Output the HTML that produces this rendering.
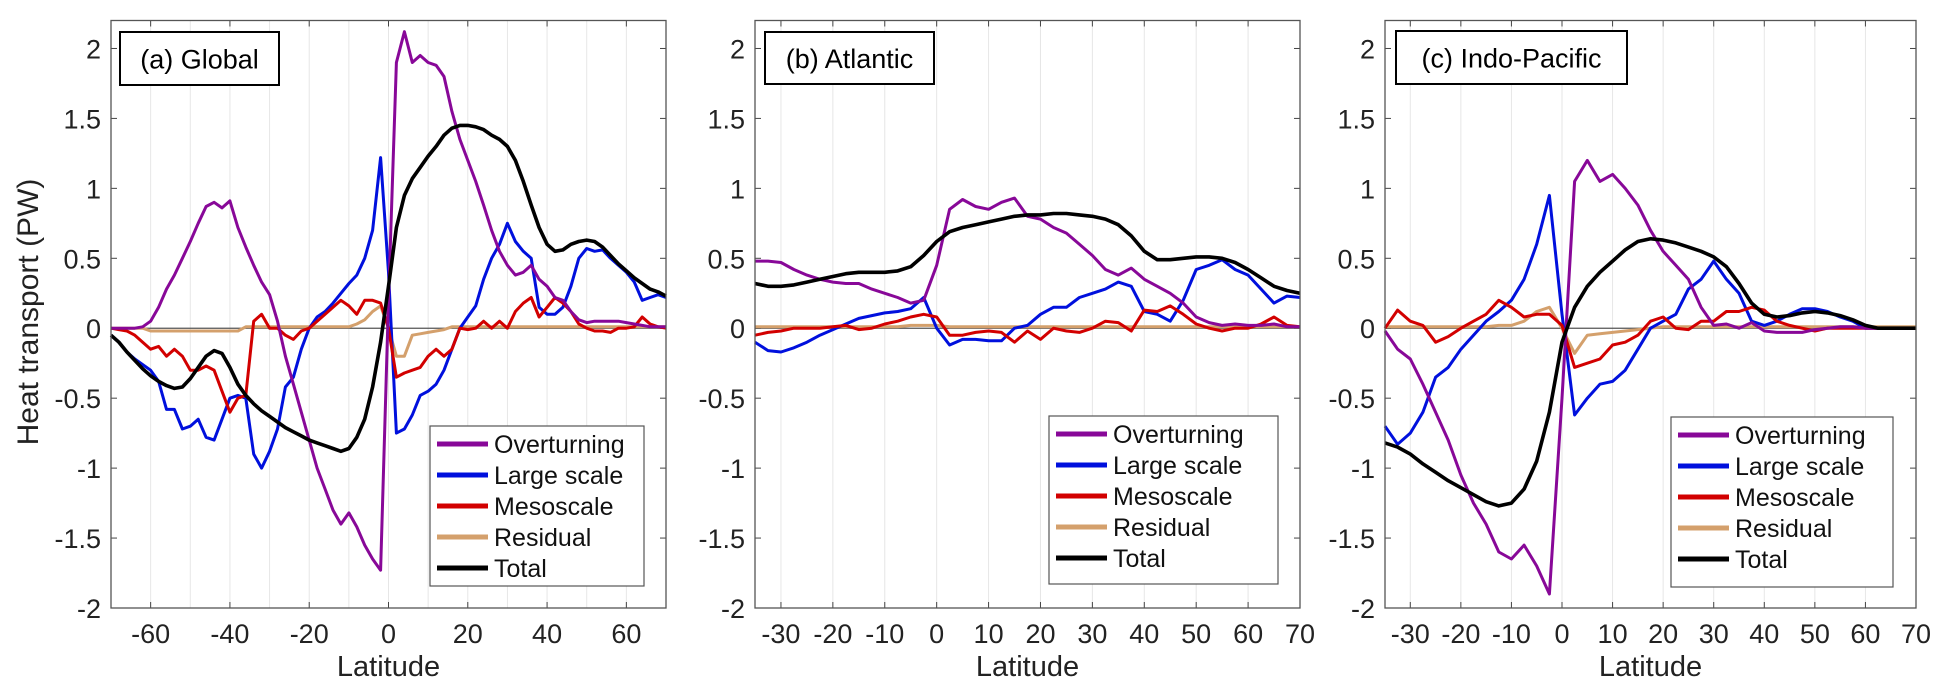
<!DOCTYPE html>
<html><head><meta charset="utf-8">
<style>
html,body{margin:0;padding:0;background:#fff;}
svg{display:block;font-family:"Liberation Sans",Arial,sans-serif;}
</style></head>
<body>
<svg id="fig" width="1948" height="682" viewBox="0 0 1948 682" xmlns="http://www.w3.org/2000/svg">
<text x="38" y="312" font-size="30" fill="#222" text-anchor="middle" transform="rotate(-90 38 312)">Heat transport (PW)</text>
</svg>
<script>
// ---- Data ----
const latA = [-70,-68,-66,-64,-62,-60,-58,-56,-54,-52,-50,-48,-46,-44,-42,-40,-38,-36,-34,-32,-30,-28,-26,-24,-22,-20,-18,-16,-14,-12,-10,-8,-6,-4,-2,0,2,4,6,8,10,12,14,16,18,20,22,24,26,28,30,32,34,36,38,40,42,44,46,48,50,52,54,56,58,60,62,64,66,68,70];
const overA = [0,0,0,0,0.01,0.05,0.15,0.28,0.38,0.5,0.62,0.75,0.87,0.9,0.86,0.91,0.72,0.58,0.45,0.33,0.24,0.05,-0.2,-0.4,-0.6,-0.8,-1.0,-1.15,-1.3,-1.4,-1.32,-1.42,-1.55,-1.65,-1.73,0.2,1.9,2.12,1.9,1.95,1.9,1.88,1.8,1.55,1.35,1.2,1.05,0.88,0.7,0.55,0.45,0.38,0.4,0.45,0.35,0.3,0.22,0.2,0.12,0.06,0.04,0.05,0.05,0.05,0.05,0.04,0.03,0.02,0.01,0.01,0.01];
const largeA = [-0.05,-0.1,-0.17,-0.22,-0.26,-0.3,-0.38,-0.58,-0.58,-0.72,-0.7,-0.65,-0.78,-0.8,-0.65,-0.5,-0.48,-0.5,-0.9,-1.0,-0.88,-0.72,-0.42,-0.35,-0.15,0.0,0.08,0.12,0.18,0.25,0.32,0.38,0.5,0.7,1.22,0.4,-0.75,-0.72,-0.62,-0.48,-0.45,-0.4,-0.3,-0.15,0.0,0.08,0.16,0.35,0.5,0.6,0.75,0.62,0.55,0.5,0.15,0.1,0.1,0.15,0.3,0.5,0.57,0.55,0.56,0.5,0.45,0.4,0.33,0.2,0.22,0.24,0.22];
const mesoA = [0,-0.01,-0.02,-0.05,-0.1,-0.15,-0.13,-0.2,-0.15,-0.2,-0.3,-0.3,-0.27,-0.3,-0.45,-0.6,-0.5,-0.48,0.05,0.1,0,0,-0.05,-0.08,-0.02,0,0.05,0.1,0.15,0.2,0.16,0.1,0.2,0.2,0.18,0,-0.35,-0.32,-0.3,-0.28,-0.2,-0.15,-0.2,-0.15,0,-0.01,0,0.05,0,0.05,0,0.12,0.18,0.22,0.08,0.15,0.22,0.18,0.12,0.03,0,-0.02,-0.02,-0.03,0,0,0.01,0.08,0.03,0.01,0];
const resA = [0,0,0,0,0,-0.02,-0.02,-0.02,-0.02,-0.02,-0.02,-0.02,-0.02,-0.02,-0.02,-0.02,-0.02,0.01,0.01,0.01,0.01,0.01,0.01,0.01,0.01,0.01,0.01,0.01,0.01,0.01,0.01,0.03,0.06,0.12,0.16,0,-0.2,-0.2,-0.05,-0.04,-0.03,-0.02,-0.01,0.01,0.01,0.01,0.01,0.01,0.01,0.01,0.01,0.01,0.01,0.01,0.01,0.01,0.01,0.01,0.01,0.01,0.01,0.01,0.01,0.01,0.01,0.01,0.01,0.01,0.01,0.01,0.01];
const totalA = [-0.05,-0.1,-0.17,-0.23,-0.29,-0.34,-0.38,-0.41,-0.43,-0.42,-0.36,-0.28,-0.2,-0.16,-0.18,-0.28,-0.4,-0.48,-0.54,-0.59,-0.63,-0.67,-0.71,-0.74,-0.77,-0.8,-0.82,-0.84,-0.86,-0.88,-0.86,-0.78,-0.65,-0.42,-0.1,0.3,0.72,0.95,1.07,1.15,1.23,1.3,1.38,1.43,1.45,1.45,1.44,1.42,1.38,1.35,1.3,1.2,1.05,0.88,0.72,0.6,0.55,0.56,0.6,0.62,0.63,0.62,0.58,0.52,0.46,0.41,0.36,0.32,0.28,0.26,0.23];

const latBC = [-35,-32.5,-30,-27.5,-25,-22.5,-20,-17.5,-15,-12.5,-10,-7.5,-5,-2.5,0,2.5,5,7.5,10,12.5,15,17.5,20,22.5,25,27.5,30,32.5,35,37.5,40,42.5,45,47.5,50,52.5,55,57.5,60,62.5,65,67.5,70];
const overB = [0.48,0.48,0.47,0.42,0.38,0.35,0.33,0.32,0.32,0.28,0.25,0.22,0.18,0.2,0.45,0.85,0.92,0.87,0.85,0.9,0.93,0.8,0.78,0.72,0.68,0.6,0.52,0.42,0.38,0.43,0.35,0.3,0.25,0.18,0.08,0.04,0.02,0.03,0.02,0.02,0.03,0.01,0.01];
const largeB = [-0.1,-0.16,-0.17,-0.14,-0.1,-0.05,-0.01,0.03,0.07,0.09,0.11,0.12,0.14,0.22,0.0,-0.12,-0.08,-0.08,-0.09,-0.09,0.0,0.02,0.1,0.15,0.15,0.22,0.25,0.28,0.33,0.3,0.12,0.1,0.05,0.2,0.42,0.45,0.49,0.42,0.38,0.28,0.18,0.23,0.22];
const mesoB = [-0.05,-0.03,-0.02,0,0,0,0.01,0.02,-0.01,0,0.03,0.05,0.08,0.1,0.08,-0.05,-0.05,-0.03,-0.02,-0.03,-0.1,-0.02,-0.08,0,-0.02,-0.03,0,0.05,0.04,-0.02,0.13,0.12,0.16,0.1,0.03,0,-0.02,0,0,0.03,0.08,0.02,0.01];
const resB = [0.01,0.01,0.01,0.01,0.01,0.01,0.01,0.01,0.01,0.01,0.01,0.01,0.02,0.02,0.02,0.01,0.01,0.01,0.01,0.01,0.01,0.01,0.01,0.01,0.01,0.01,0.01,0.01,0.01,0.01,0.01,0.01,0.01,0.01,0.01,0.01,0.01,0.01,0.01,0.01,0.01,0.01,0.01];
const totalB = [0.32,0.3,0.3,0.31,0.33,0.35,0.37,0.39,0.4,0.4,0.4,0.41,0.44,0.52,0.62,0.69,0.72,0.74,0.76,0.78,0.8,0.81,0.81,0.82,0.82,0.81,0.8,0.78,0.74,0.66,0.55,0.49,0.49,0.5,0.51,0.51,0.5,0.47,0.42,0.36,0.3,0.27,0.25];

const overC = [-0.02,-0.15,-0.22,-0.4,-0.6,-0.8,-1.05,-1.25,-1.4,-1.6,-1.65,-1.55,-1.7,-1.9,-0.5,1.05,1.2,1.05,1.1,1.0,0.88,0.7,0.55,0.45,0.35,0.15,0.02,0.03,0,0.04,-0.02,-0.03,-0.03,-0.03,-0.01,0,0.01,0.01,0,0,0,0,0];
const largeC = [-0.7,-0.83,-0.75,-0.6,-0.35,-0.28,-0.15,-0.05,0.05,0.12,0.2,0.35,0.6,0.95,0.1,-0.62,-0.5,-0.4,-0.38,-0.3,-0.15,0,0.05,0.1,0.28,0.35,0.48,0.35,0.25,0.05,0.02,0.05,0.1,0.14,0.14,0.12,0.08,0.05,0,0,0,0,0];
const mesoC = [0,0.13,0.05,0.02,-0.1,-0.06,0,0.05,0.1,0.2,0.15,0.08,0.1,0.1,0.02,-0.28,-0.25,-0.22,-0.12,-0.1,-0.05,0.05,0.08,0,-0.01,0.05,0.05,0.12,0.12,0.15,0.13,0.05,0.02,0,-0.02,0,0,0,0,0,0,0,0];
const resC = [0.01,0.01,0.01,0.01,0.01,0.01,0.01,0.01,0.01,0.02,0.02,0.05,0.12,0.15,0,-0.18,-0.05,-0.04,-0.03,-0.02,-0.01,0,0.01,0.01,0.01,0.01,0.01,0.01,0.01,0.01,0.01,0.01,0.01,0.01,0.01,0.01,0.01,0.01,0.01,0.01,0.01,0.01,0.01];
const totalC = [-0.82,-0.85,-0.9,-0.97,-1.03,-1.09,-1.14,-1.19,-1.24,-1.27,-1.25,-1.15,-0.95,-0.6,-0.1,0.15,0.3,0.4,0.48,0.56,0.62,0.64,0.63,0.61,0.58,0.55,0.51,0.44,0.32,0.18,0.1,0.08,0.09,0.11,0.12,0.11,0.09,0.06,0.02,0,0,0,0];

const seriesNames = ["Overturning","Large scale","Mesoscale","Residual","Total"];
const yTicks = [2,1.5,1,0.5,0,-0.5,-1,-1.5,-2];
const xTicksA = [-60,-40,-20,0,20,40,60];
const xTicksBC = [-30,-20,-10,0,10,20,30,40,50,60,70];

const colors = ["#880898","#0010dd","#d20000","#d4a06c","#000000"];
const NS = "http://www.w3.org/2000/svg";
const svg = document.getElementById("fig");
function mk(tag, attrs, parent){const e=document.createElementNS(NS,tag);for(const k in attrs)e.setAttribute(k,attrs[k]);(parent||svg).appendChild(e);return e;}

const panels = [
 {id:"global",title:"(a) Global",L:111,R:666,xmin:-70,xmax:70,lat:latA,data:[overA,largeA,mesoA,resA,totalA],xt:xTicksA,grid:10,tb:[120,32,159,53],lg:[430,426,214,160]},
 {id:"atlantic",title:"(b) Atlantic",L:755,R:1300,xmin:-35,xmax:70,lat:latBC,data:[overB,largeB,mesoB,resB,totalB],xt:xTicksBC,grid:10,tb:[765,32,169,52],lg:[1049,416,229,168]},
 {id:"indo-pacific",title:"(c) Indo-Pacific",L:1385,R:1916,xmin:-35,xmax:70,lat:latBC,data:[overC,largeC,mesoC,resC,totalC],xt:xTicksBC,grid:10,tb:[1396,31,231,53],lg:[1671,417,222,170]}
];
const T=20.5,B=608,ymin=-2,ymax=2.2;
panels.forEach(p=>{
 const g=mk("g",{});
 
 
 const xs=v=>p.L+(v-p.xmin)/(p.xmax-p.xmin)*(p.R-p.L);
 const ys=v=>B-(v-ymin)/(ymax-ymin)*(B-T);
 for(let v=Math.ceil(p.xmin/p.grid)*p.grid; v<p.xmax; v+=p.grid){
  if(v<=p.xmin)continue;
  const l=mk("line",{x1:xs(v),x2:xs(v),y1:T,y2:B,stroke:"#e6e6e6","stroke-width":1},g);
  
  
 }
 const z=mk("line",{x1:p.L,x2:p.R,y1:ys(0),y2:ys(0),stroke:"#555","stroke-width":1.2},g);
 
 
 yTicks.forEach(v=>{
  const y=ys(v);
  mk("line",{x1:p.L,x2:p.L+6,y1:y,y2:y,stroke:"#444"},g);
  mk("line",{x1:p.R,x2:p.R-6,y1:y,y2:y,stroke:"#444"},g);
  const t=mk("text",{x:p.L-10,y:y+10,"font-size":27,"text-anchor":"end",fill:"#222"},g);
  t.textContent=String(v);
  
  
 });
 p.xt.forEach(v=>{
  const x=xs(v);
  mk("line",{x1:x,x2:x,y1:B,y2:B-6,stroke:"#444"},g);
  mk("line",{x1:x,x2:x,y1:T,y2:T+6,stroke:"#444"},g);
  const t=mk("text",{x:x,y:643,"font-size":27,"text-anchor":"middle",fill:"#222"},g);
  t.textContent=String(v);
  
  
 });
 const xl=mk("text",{x:(p.L+p.R)/2,y:676,"font-size":29,"text-anchor":"middle",fill:"#222"},g);
 xl.textContent="Latitude";
 
 
 [3,1,2,0,4].forEach(i=>{
  const pts=p.lat.map((la,k)=>xs(la).toFixed(1)+","+ys(p.data[i][k]).toFixed(1)).join(" ");
  const pl=mk("polyline",{points:pts,fill:"none",stroke:colors[i],"stroke-width":i==4?3.6:3,"stroke-linejoin":"round"},g);
  
  
 });
 const fr=mk("rect",{x:p.L,y:T,width:p.R-p.L,height:B-T,fill:"none",stroke:"#555","stroke-width":1.3},g);
 
 
 const tb=mk("rect",{x:p.tb[0],y:p.tb[1],width:p.tb[2],height:p.tb[3],fill:"#fff",stroke:"#000","stroke-width":2},g);
 
 
 const tt=mk("text",{x:p.tb[0]+p.tb[2]/2,y:p.tb[1]+p.tb[3]/2+10,"font-size":27,"text-anchor":"middle",fill:"#000"},g);
 tt.textContent=p.title;
 
 
 const lg=mk("g",{},g);
 
 
 mk("rect",{x:p.lg[0],y:p.lg[1],width:p.lg[2],height:p.lg[3],fill:"#fff",stroke:"#555","stroke-width":1.2},lg);
 seriesNames.forEach((n,i)=>{
  const y=p.lg[1]+18+i*31;
  const ln=mk("line",{x1:p.lg[0]+7,x2:p.lg[0]+58,y1:y,y2:y,stroke:colors[i],"stroke-width":5},lg);
  
  
  const t=mk("text",{x:p.lg[0]+64,y:y+9,"font-size":25,fill:"#111"},lg);
  t.textContent=n;
  
  
 });
});
</script>
</body></html>
